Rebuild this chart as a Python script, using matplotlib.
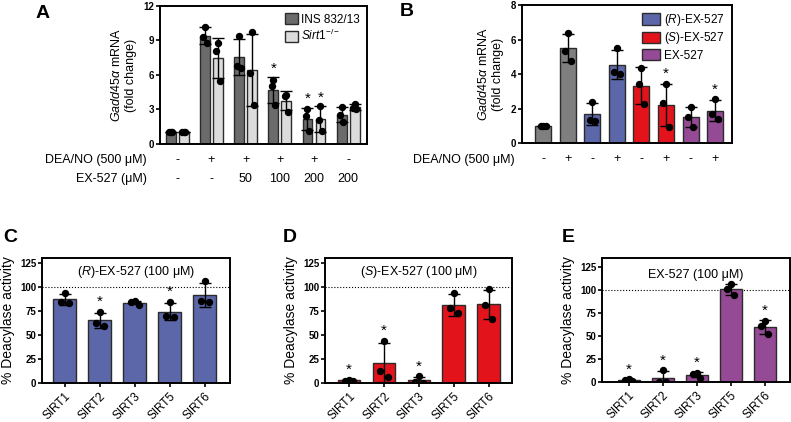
import numpy as np
import matplotlib
matplotlib.use("Agg")
import matplotlib.pyplot as plt
from matplotlib.patches import Patch
from matplotlib.transforms import blended_transform_factory

plt.rcParams['font.family'] = ['Liberation Sans', 'DejaVu Sans']
plt.rcParams['mathtext.fontset'] = 'custom'
plt.rcParams['mathtext.rm'] = 'Liberation Sans'
plt.rcParams['mathtext.it'] = 'Liberation Sans:italic'
plt.rcParams['mathtext.bf'] = 'Liberation Sans:bold'

# ---- panel A: Gadd45a mRNA, INS 832/13 vs Sirt1-/- ----
a_dea = ["-", "+", "+", "+", "+", "-"]
a_ex = ["-", "-", "50", "100", "200", "200"]
a_ins = [[1.0, 1.0, 1.0], [10.2, 9.3, 8.8], [9.4, 6.8, 6.6],
         [5.6, 5.0, 3.4], [3.0, 2.4, 1.1], [3.2, 2.5, 1.9]]
a_sirt = [[1.0, 1.0, 1.0], [8.8, 8.1, 5.5], [9.7, 6.2, 3.4],
          [4.3, 4.2, 2.8], [3.3, 2.1, 1.1], [3.5, 3.1, 3.0]]
a_star_ins = [False, False, False, True, True, False]
a_star_sirt = [False, False, False, False, True, False]

# ---- panel B: enantiomers ----
b_dea = ["-", "+", "-", "+", "-", "+", "-", "+"]
b_pts = [[1.0, 1.0, 1.0], [6.35, 5.35, 4.75], [2.4, 1.35, 1.3], [5.5, 4.1, 4.0],
         [4.35, 3.4, 2.25], [3.4, 2.3, 0.95], [2.1, 1.5, 0.95], [2.55, 1.7, 1.4]]
b_group = ["none", "none", "R", "R", "S", "S", "rac", "rac"]
b_star = [False, False, False, False, False, True, False, True]

# ---- panels C-E: % deacylase activity ----
sirts = ["SIRT1", "SIRT2", "SIRT3", "SIRT5", "SIRT6"]
c_pts = [[94, 83, 84], [74, 59.5, 62.5], [81.5, 84.5, 85], [84.5, 68.5, 70], [106, 84.5, 85]]
c_star = [False, True, False, True, False]
d_pts = [[2.0, 3.6, 2.6], [44, 13, 6.5], [7, 0.2, 1], [94, 72.5, 77.5], [97.5, 81, 67]]
d_star = [True, True, True, False, False]
e_pts = [[1.5, 3.5, 2.0], [13, 0, 0], [4.5, 9, 9.5], [107, 100.5, 94.5], [66.5, 61, 52]]
e_star = [True, True, True, False, True]

colors = {"none": "#7f7f7f", "R": "#5b67a9", "S": "#e3131b", "rac": "#944a94"}
ins_col = "#6b6b6b"
sirt_col = "#dcdcdc"
edge = "#2b2b2b"


def bars(ax, xs, pts, cols, width, stars, star_off):
    for x, p, c, s in zip(xs, pts, cols, stars):
        p = np.array(p, dtype=float)
        m = p.mean()
        sd = p.std(ddof=1)
        ax.bar(x, m, width, color=c, edgecolor=edge, linewidth=1.0, zorder=2)
        ax.errorbar(x, m, yerr=sd, color="black", capsize=4, lw=1.0,
                    capthick=1.0, zorder=3)
        order = np.argsort(-p)
        offs = np.array([0.0, -0.17, 0.17]) * width
        for k, idx in enumerate(order):
            ax.plot(x + offs[k], p[idx], "o", color="black", ms=4.3, zorder=4)
        if s:
            top = max(m + sd, p.max())
            ax.text(x, top + star_off, "*", ha="center", va="center",
                    fontsize=11)


def style(ax):
    for sp in ax.spines.values():
        sp.set_linewidth(1.4)
    ax.tick_params(axis="y", direction="out", length=3, width=1.2,
                   labelsize=7, pad=1)
    for t in ax.get_yticklabels():
        t.set_fontweight("bold")


fig = plt.figure(figsize=(7.91, 4.22), dpi=100)

# A
axA = fig.add_axes([0.2023, 0.6588, 0.2617, 0.3270])
xa = np.arange(len(a_ins))
bars(axA, xa - 0.19, a_ins, [ins_col] * 6, 0.29, a_star_ins, 0.75)
bars(axA, xa + 0.19, a_sirt, [sirt_col] * 6, 0.29, a_star_sirt, 0.75)
axA.set_xlim(-0.5, 5.55)
axA.set_ylim(0, 12)
axA.set_yticks([0, 3, 6, 9, 12])
axA.set_xticks([])
style(axA)
axA.set_ylabel("$\\mathit{Gadd45\\alpha}$ mRNA\n(fold change)", fontsize=9,
               labelpad=5)
axA.legend(handles=[Patch(facecolor=ins_col, edgecolor=edge, label="INS 832/13"),
                    Patch(facecolor=sirt_col, edgecolor=edge,
                          label="$\\mathit{Sirt1}^{-/-}$")],
           loc="upper right", frameon=False, fontsize=8.5, handlelength=1.1,
           handleheight=1.1, handletextpad=0.3, borderaxespad=0.2,
           labelspacing=0.2)
trA = blended_transform_factory(axA.transData, axA.transAxes)
for i in xa:
    axA.text(i, -0.116, a_dea[i], transform=trA, ha="center", va="center", fontsize=9)
    axA.text(i, -0.254, a_ex[i], transform=trA, ha="center", va="center", fontsize=9)
fig.text(147 / 791, 1 - 160 / 422, "DEA/NO (500 μM)", ha="right", va="center", fontsize=9)
fig.text(147 / 791, 1 - 179 / 422, "EX-527 (μM)", ha="right", va="center", fontsize=9)

# B
axB = fig.add_axes([0.6599, 0.6611, 0.2655, 0.3270])
xb = np.arange(len(b_pts))
bars(axB, xb, b_pts, [colors[g] for g in b_group], 0.65, b_star, 0.55)
axB.set_xlim(-0.87, 7.69)
axB.set_ylim(0, 8)
axB.set_yticks([0, 2, 4, 6, 8])
axB.set_xticks([])
style(axB)
axB.set_ylabel("$\\mathit{Gadd45\\alpha}$ mRNA\n(fold change)", fontsize=9,
               labelpad=5)
axB.legend(handles=[Patch(facecolor=colors["R"], edgecolor=edge, label="($\\mathit{R}$)-EX-527"),
                    Patch(facecolor=colors["S"], edgecolor=edge, label="($\\mathit{S}$)-EX-527"),
                    Patch(facecolor=colors["rac"], edgecolor=edge, label="EX-527")],
           loc="upper right", frameon=False, fontsize=8.5, handlelength=1.6,
           handleheight=1.1, handletextpad=0.3, borderaxespad=0.2,
           labelspacing=0.2)
trB = blended_transform_factory(axB.transData, axB.transAxes)
for i in xb:
    axB.text(i, -0.116, b_dea[i], transform=trB, ha="center", va="center", fontsize=9)
fig.text(515 / 791, 1 - 160 / 422, "DEA/NO (500 μM)", ha="right", va="center", fontsize=9)

# C, D, E
panels = [
    ([0.0531, 0.0924, 0.2377, 0.2962], c_pts, c_star, colors["R"],
     "($\\mathit{R}$)-EX-527 (100 μM)", (-0.65, 4.72), 130, 115),
    ([0.4109, 0.0924, 0.2364, 0.2962], d_pts, d_star, colors["S"],
     "($\\mathit{S}$)-EX-527 (100 μM)", (-0.69, 4.67), 130, 115),
    ([0.7611, 0.0948, 0.2377, 0.2938], e_pts, e_star, colors["rac"],
     "EX-527 (100 μM)", (-0.78, 4.75), 134.7, 116.5),
]
for pos, pts, stars, col, title, xl, ytop, ty in panels:
    ax = fig.add_axes(pos)
    xs = np.arange(len(sirts))
    ax.axhline(100, color="black", ls=":", lw=0.8, zorder=1)
    bars(ax, xs, pts, [col] * 5, 0.65, stars, 10)
    ax.set_xlim(*xl)
    ax.set_ylim(0, ytop)
    ax.set_yticks([0, 25, 50, 75, 100, 125])
    ax.set_xticks(xs)
    ax.set_xticklabels(sirts, rotation=45, ha="right", rotation_mode="anchor",
                       fontsize=8.5)
    ax.tick_params(axis="x", length=3, width=1.2, pad=2)
    style(ax)
    ax.set_ylabel("% Deacylase activity", fontsize=10, labelpad=4)
    ax.text(np.mean(xl), ty, title, ha="center", va="center", fontsize=9)

for lab, x, y in [("A", 36, 14), ("B", 400, 12), ("C", 3, 237),
                  ("D", 283, 237), ("E", 562, 237)]:
    fig.text(x / 791, 1 - y / 422, lab, fontsize=14, fontweight="bold",
             ha="left", va="center")

fig.savefig("out.png", dpi=100)
